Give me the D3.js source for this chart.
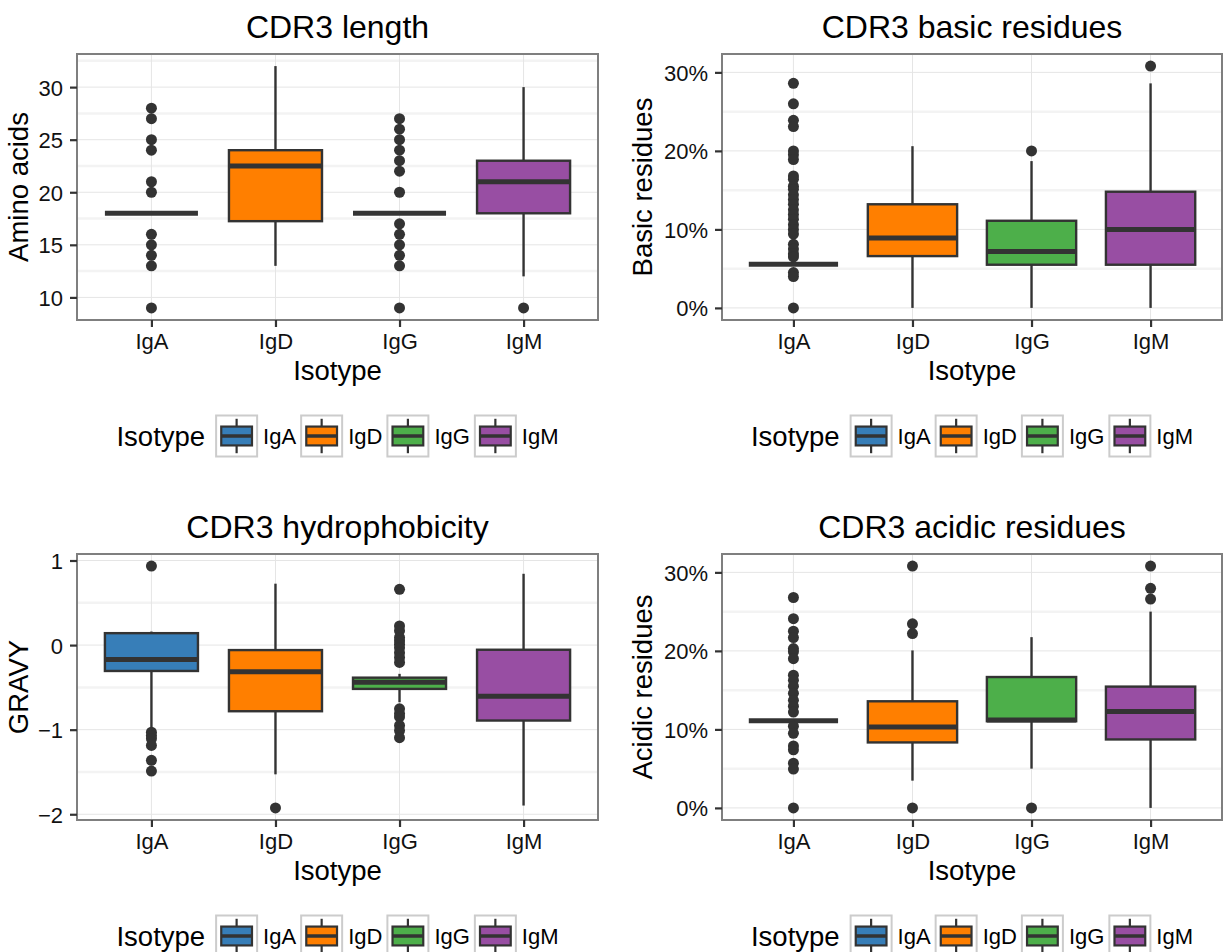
<!DOCTYPE html>
<html><head><meta charset="utf-8">
<script src="https://cdn.jsdelivr.net/npm/d3@7"></script>
<style>body{margin:0;background:#fff} text{font-family:"Liberation Sans",Arial,Helvetica,sans-serif}</style>
</head><body><svg id="c" width="1225" height="952"></svg>
<script>
const isotypes = ["IgA","IgD","IgG","IgM"];
const fillColors = ["#377EB8","#FF7F00","#4DAF4A","#984EA3"];

// box stats per isotype: [lower whisker, Q1, median, Q3, upper whisker]
const lengthStats = [[18,18,18,18,18],[13,17.25,22.5,24,32],[18,18,18,18,18],[12,18,21,23,30]];
const lengthOutliers = [[28,27,25,24,21,20,16,15,14,13,9],[],[27,26,25,24,23,22,20,17,16,15,14,13,9],[9]];
const lengthTicks = [10,15,20,25,30];

const basicStats = [[5.56,5.56,5.56,5.56,5.56],[0,6.6,8.9,13.2,20.6],[0,5.5,7.2,11.1,18.7],[0,5.5,10.0,14.8,28.6]];
const basicOutliers = [[28.6,26.0,23.9,23.1,20.0,19.5,18.9,16.8,16.4,15.5,15.1,14.4,13.8,13.2,12.5,11.9,11.3,10.6,10.0,9.4,8.1,7.5,6.9,6.5,4.5,4.0,0],[],[20.0],[30.8]];
const basicTicks = [0,10,20,30];

const gravyStats = [[-0.98,-0.306,-0.17,0.141,0.16],[-1.528,-0.782,-0.314,-0.059,0.726],[-0.676,-0.518,-0.44,-0.385,-0.34],[-1.897,-0.892,-0.605,-0.055,0.843]];
const gravyOutliers = [[0.934,-1.03,-1.07,-1.107,-1.186,-1.363,-1.489],[-1.925],[0.66,0.227,0.17,0.09,0.05,0.01,-0.03,-0.09,-0.146,-0.205,-0.754,-0.81,-0.85,-0.95,-1.01,-1.095],[]];
const gravyTicks = [-2,-1,0,1];

const acidicStats = [[11.1,11.1,11.1,11.1,11.1],[3.47,8.34,10.3,13.58,20.06],[5.0,11.04,11.2,16.67,21.75],[0,8.72,12.28,15.45,25.0]];
const acidicOutliers = [[26.8,24.1,22.5,21.7,20.3,19.9,19.0,16.9,16.25,15.5,14.6,13.7,12.95,12.2,10.4,9.5,7.9,7.4,5.7,4.95,0],[30.8,23.45,22.2,0],[0],[30.8,27.97,26.6]];
const acidicTicks = [0,10,20,30];

const titles = ["CDR3 length","CDR3 basic residues","CDR3 hydrophobicity","CDR3 acidic residues"];
const yTitles = ["Amino acids","Basic residues","GRAVY","Acidic residues"];
const xTitle = "Isotype";
const legendTitle = "Isotype";

const pct = d => d + "%";
const num = d => (d < 0 ? "\u2212" + Math.abs(d) : String(d));

const panels = [
  {stats: lengthStats, outs: lengthOutliers, ticks: lengthTicks, fmt: num, x0: 77, x1: 598, y0: 54, y1: 320, ytx: 28},
  {stats: basicStats, outs: basicOutliers, ticks: basicTicks, fmt: pct, x0: 722, x1: 1222, y0: 54, y1: 320, ytx: 652},
  {stats: gravyStats, outs: gravyOutliers, ticks: gravyTicks, fmt: num, x0: 77, x1: 598, y0: 554, y1: 820, ytx: 28},
  {stats: acidicStats, outs: acidicOutliers, ticks: acidicTicks, fmt: pct, x0: 722, x1: 1222, y0: 554, y1: 820, ytx: 652}
];

const svg = d3.select("#c");
const BOX = "#333333";

panels.forEach((p, pi) => {
  const all = p.stats.flat().concat(p.outs.flat());
  const lo = d3.min(all), hi = d3.max(all), ex = (hi - lo) * 0.05;
  const y = d3.scaleLinear().domain([lo - ex, hi + ex]).range([p.y1, p.y0]);
  const x = d3.scalePoint().domain(isotypes).range([p.x0, p.x1]).padding(0.6);
  const step = x.step();
  const bw = step * 0.75;
  const g = svg.append("g");

  // minor grid
  const tstep = p.ticks[1] - p.ticks[0];
  const minors = [];
  for (let v = p.ticks[0] - tstep / 2; v <= p.ticks[p.ticks.length - 1] + tstep; v += tstep) minors.push(v);
  g.selectAll(".mn").data(minors.filter(v => v > y.domain()[0] && v < y.domain()[1])).join("line")
    .attr("x1", p.x0).attr("x2", p.x1).attr("y1", d => y(d)).attr("y2", d => y(d))
    .attr("stroke", "#F3F3F3").attr("stroke-width", 2.5);
  // major grid
  g.selectAll(".mj").data(p.ticks).join("line")
    .attr("x1", p.x0).attr("x2", p.x1).attr("y1", d => y(d)).attr("y2", d => y(d))
    .attr("stroke", "#E5E5E5").attr("stroke-width", 1);
  g.selectAll(".mv").data(isotypes).join("line")
    .attr("x1", d => x(d)).attr("x2", d => x(d)).attr("y1", p.y0).attr("y2", p.y1)
    .attr("stroke", "#E5E5E5").attr("stroke-width", 1);

  // boxes
  isotypes.forEach((iso, i) => {
    const s = p.stats[i];
    const cx = x(iso);
    const bg = g.append("g");
    bg.append("line").attr("x1", cx).attr("x2", cx).attr("y1", y(s[4])).attr("y2", y(s[3]))
      .attr("stroke", BOX).attr("stroke-width", 2.4);
    bg.append("line").attr("x1", cx).attr("x2", cx).attr("y1", y(s[1])).attr("y2", y(s[0]))
      .attr("stroke", BOX).attr("stroke-width", 2.4);
    bg.append("rect").attr("x", cx - bw / 2).attr("width", bw)
      .attr("y", y(s[3])).attr("height", Math.max(0, y(s[1]) - y(s[3])))
      .attr("fill", fillColors[i]).attr("stroke", BOX).attr("stroke-width", 2.4);
    bg.append("line").attr("x1", cx - bw / 2).attr("x2", cx + bw / 2).attr("y1", y(s[2])).attr("y2", y(s[2]))
      .attr("stroke", BOX).attr("stroke-width", 5);
    bg.selectAll("circle").data(p.outs[i]).join("circle")
      .attr("cx", cx).attr("cy", d => y(d)).attr("r", 5.5).attr("fill", BOX);
  });

  // border
  g.append("rect").attr("x", p.x0).attr("y", p.y0).attr("width", p.x1 - p.x0).attr("height", p.y1 - p.y0)
    .attr("fill", "none").attr("stroke", "#7F7F7F").attr("stroke-width", 2);

  // axes
  const ya = g.append("g").attr("transform", `translate(${p.x0},0)`)
    .call(d3.axisLeft(y).tickValues(p.ticks).tickFormat(p.fmt).tickSize(7).tickPadding(7));
  ya.select(".domain").remove();
  ya.selectAll("line").attr("stroke", BOX).attr("stroke-width", 2.2);
  ya.selectAll("text").attr("font-size", 22).attr("fill", "#111").attr("font-family", "Liberation Sans, Arial, sans-serif").attr("dy", "0.36em");

  const xa = g.append("g").attr("transform", `translate(0,${p.y1})`)
    .call(d3.axisBottom(x).tickSize(7));
  xa.select(".domain").remove();
  xa.selectAll("line").attr("stroke", BOX).attr("stroke-width", 2.2);
  xa.selectAll("text").attr("font-size", 22).attr("fill", "#111").attr("font-family", "Liberation Sans, Arial, sans-serif")
    .attr("y", 29).attr("dy", null);

  const cxp = (p.x0 + p.x1) / 2;
  g.append("text").attr("x", cxp).attr("y", p.y1 + 60).attr("text-anchor", "middle")
    .attr("font-size", 27.5).text(xTitle);
  g.append("text").attr("transform", `translate(${p.ytx},${(p.y0 + p.y1) / 2}) rotate(-90)`)
    .attr("text-anchor", "middle").attr("font-size", 27.5).text(yTitles[pi]);
  g.append("text").attr("x", cxp).attr("y", p.y0 - 16).attr("text-anchor", "middle")
    .attr("font-size", 32).text(titles[pi]);

  // legend
  const ly = p.y0 + 382; // center
  const lg = g.append("g");
  const tt = lg.append("text").attr("y", ly + 10).attr("font-size", 27.5).text(legendTitle);
  let cur = tt.node().getComputedTextLength() + 11;
  const K = 41;
  isotypes.forEach((iso, i) => {
    const kg = lg.append("g").attr("transform", `translate(${cur},${ly - K / 2})`);
    kg.append("rect").attr("x", 0).attr("y", 0).attr("width", K).attr("height", K)
      .attr("fill", "#fff").attr("stroke", "#CCCCCC").attr("stroke-width", 2);
    kg.append("line").attr("x1", K / 2).attr("x2", K / 2).attr("y1", K * 0.08).attr("y2", K * 0.92)
      .attr("stroke", BOX).attr("stroke-width", 2.2);
    kg.append("rect").attr("x", K * 0.125).attr("y", K * 0.27).attr("width", K * 0.75).attr("height", K * 0.46)
      .attr("fill", fillColors[i]).attr("stroke", BOX).attr("stroke-width", 2.2);
    kg.append("line").attr("x1", K * 0.125).attr("x2", K * 0.875).attr("y1", K / 2).attr("y2", K / 2)
      .attr("stroke", BOX).attr("stroke-width", 3.5);
    cur += K + 6;
    const lt = lg.append("text").attr("x", cur).attr("y", ly + 8).attr("font-size", 22).text(iso);
    cur += lt.node().getComputedTextLength() + 5;
  });
  const total = cur - 5;
  lg.attr("transform", `translate(${cxp - total / 2},0)`);
});
</script></body></html>
